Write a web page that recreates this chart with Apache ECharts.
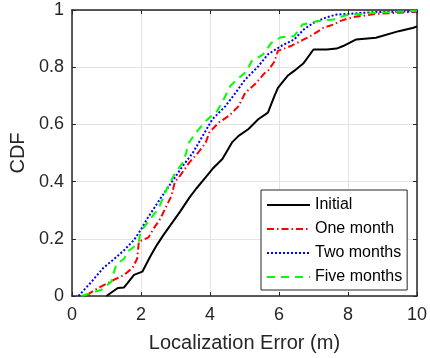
<!DOCTYPE html>
<html>
<head>
<meta charset="utf-8">
<script src="https://cdn.jsdelivr.net/npm/echarts@6/dist/echarts.min.js"></script>
<style>
  html, body { margin: 0; padding: 0; background: #fff; }
  #chart { width: 430px; height: 358px; }
</style>
</head>
<body>
<div id="chart"></div>
<script>
// CDF curves (x = localization error in m, y = CDF)
const seriesNames = ["Initial", "One month", "Two months", "Five months"];
const xTicks = [0, 2, 4, 6, 8, 10];
const yTicks = [0, 0.2, 0.4, 0.6, 0.8, 1];

const initialX = [1.0, 1.04, 1.33, 1.51, 1.61, 1.8, 2.04, 2.27, 2.46, 2.65, 2.84, 3.13, 3.41, 3.6, 3.88, 4.07, 4.36, 4.64, 4.83, 5.11, 5.4, 5.68, 5.87, 5.97, 6.25, 6.44, 6.72, 7.0, 7.39, 7.67, 7.86, 8.24, 8.81, 9.47, 9.9, 10];
const initialY = [0, 0.005, 0.028, 0.03, 0.045, 0.074, 0.085, 0.138, 0.178, 0.213, 0.245, 0.294, 0.345, 0.375, 0.416, 0.444, 0.479, 0.537, 0.56, 0.583, 0.618, 0.641, 0.70, 0.728, 0.77, 0.787, 0.815, 0.862, 0.862, 0.865, 0.874, 0.897, 0.903, 0.926, 0.938, 0.943];

const oneMonthX = [0.47, 0.52, 0.76, 0.95, 1.23, 1.51, 1.75, 1.89, 1.94, 2.22, 2.37, 2.56, 2.75, 2.89, 2.98, 3.13, 3.41, 3.65, 3.88, 3.98, 4.26, 4.55, 4.83, 5.02, 5.3, 5.59, 5.68, 5.87, 5.97, 6.34, 6.72, 7.0, 7.29, 7.58, 7.76, 8.14, 8.8, 9.85, 10];
const oneMonthY = [0, 0.01, 0.028, 0.04, 0.057, 0.074, 0.097, 0.13, 0.19, 0.205, 0.236, 0.27, 0.317, 0.352, 0.398, 0.42, 0.468, 0.50, 0.537, 0.572, 0.607, 0.63, 0.664, 0.71, 0.74, 0.78, 0.787, 0.82, 0.857, 0.874, 0.897, 0.915, 0.938, 0.949, 0.961, 0.975, 0.986, 0.993, 0.994];

const twoMonthsX = [0.19, 0.24, 0.57, 0.9, 1.23, 1.51, 1.8, 1.99, 2.18, 2.56, 2.89, 3.22, 3.5, 3.79, 4.07, 4.45, 4.74, 5.02, 5.4, 5.68, 6.06, 6.44, 6.72, 7.0, 7.39, 7.67, 7.95, 8.8, 10];
const twoMonthsY = [0, 0.005, 0.05, 0.097, 0.13, 0.16, 0.196, 0.23, 0.27, 0.34, 0.398, 0.456, 0.50, 0.56, 0.618, 0.664, 0.71, 0.757, 0.803, 0.845, 0.874, 0.897, 0.932, 0.955, 0.975, 0.984, 0.986, 0.993, 0.995];

const fiveMonthsX = [0.28, 0.33, 0.85, 1.14, 1.28, 1.51, 1.61, 1.8, 1.94, 1.99, 2.27, 2.51, 2.75, 2.98, 3.22, 3.31, 3.36, 3.6, 3.88, 4.21, 4.4, 4.59, 4.78, 5.07, 5.2, 5.54, 5.78, 6.06, 6.44, 6.68, 7.1, 7.58, 7.95, 8.8, 10];
const fiveMonthsY = [0, 0.005, 0.022, 0.05, 0.109, 0.13, 0.155, 0.172, 0.19, 0.225, 0.27, 0.306, 0.375, 0.427, 0.468, 0.50, 0.531, 0.572, 0.612, 0.647, 0.688, 0.734, 0.757, 0.786, 0.82, 0.845, 0.885, 0.905, 0.909, 0.949, 0.961, 0.967, 0.982, 0.99, 0.997];

const FONT = "Liberation Sans";
const AXIS_COLOR = "#262626";

const chart = echarts.init(document.getElementById("chart"), null, { renderer: "canvas" });

// 把 x / y 两个数组拼成点对
const pairs = (xs, ys) => xs.map((x, i) => [x, ys[i]]);

const makeAxis = (extra) => Object.assign({
  type: "value",
  axisLine: { show: true, onZero: false, lineStyle: { color: AXIS_COLOR, width: 1.5 } },
  axisTick: { show: true, inside: true, length: 4, lineStyle: { color: AXIS_COLOR, width: 1 } },
  splitLine: { show: false },
  axisLabel: { show: false },
}, extra);

const curves = [
  { x: initialX, y: initialY, color: "#000000", type: "solid" },
  { x: oneMonthX, y: oneMonthY, color: "#ff0000", type: [7, 3, 1.5, 3] },
  { x: twoMonthsX, y: twoMonthsY, color: "#0000ff", type: [2, 2] },
  { x: fiveMonthsX, y: fiveMonthsY, color: "#00ff00", type: [8, 6] },
];

const option = {
  animation: false,
  backgroundColor: "#fff",
  textStyle: { fontFamily: FONT },
  grid: { left: 70, right: 8, top: 10, bottom: 60, containLabel: false },
  xAxis: [
    makeAxis({
      position: "bottom",
      min: xTicks[0],
      max: xTicks[xTicks.length - 1],
      interval: 2,
      name: "Localization Error (m)",
      nameLocation: "middle",
      nameGap: 37,
      nameTextStyle: { fontFamily: FONT, fontSize: 20, color: AXIS_COLOR },
      splitLine: { show: true, lineStyle: { color: "#e3e3e3", width: 1 } },
      axisLabel: { show: true, fontFamily: FONT, fontSize: 18, color: AXIS_COLOR, margin: 10 },
    }),
    makeAxis({ position: "top", min: xTicks[0], max: xTicks[xTicks.length - 1], interval: 2 }),
  ],
  yAxis: [
    makeAxis({
      position: "left",
      min: yTicks[0],
      max: yTicks[yTicks.length - 1],
      interval: 0.2,
      name: "CDF",
      nameLocation: "middle",
      nameGap: 38,
      nameTextStyle: { fontFamily: FONT, fontSize: 20, color: AXIS_COLOR },
      splitLine: { show: true, lineStyle: { color: "#e3e3e3", width: 1 } },
      axisLabel: { show: true, fontFamily: FONT, fontSize: 18, color: AXIS_COLOR, margin: 8 },
    }),
    makeAxis({ position: "right", min: yTicks[0], max: yTicks[yTicks.length - 1], interval: 0.2 }),
  ],
  legend: {
    orient: "vertical",
    left: 261,
    top: 190,
    padding: [7, 5, 5, 5],
    itemWidth: 43,
    itemHeight: 14,
    itemGap: 8,
    backgroundColor: "#fff",
    borderColor: AXIS_COLOR,
    borderWidth: 1,
    itemStyle: { opacity: 0, borderWidth: 0 },
    textStyle: { fontFamily: FONT, fontSize: 16, color: "#000" },
    data: seriesNames,
  },
  series: curves.map((c, i) => ({
    name: seriesNames[i],
    type: "line",
    xAxisIndex: 0,
    yAxisIndex: 0,
    symbol: "none",
    showSymbol: false,
    z: 2 + i,
    lineStyle: { color: c.color, width: 2, type: c.type },
    itemStyle: { color: c.color },
    data: pairs(c.x, c.y),
  })),
};

chart.setOption(option);

window.addEventListener("resize", () => {
  chart.resize();
});
</script>
</body>
</html>
